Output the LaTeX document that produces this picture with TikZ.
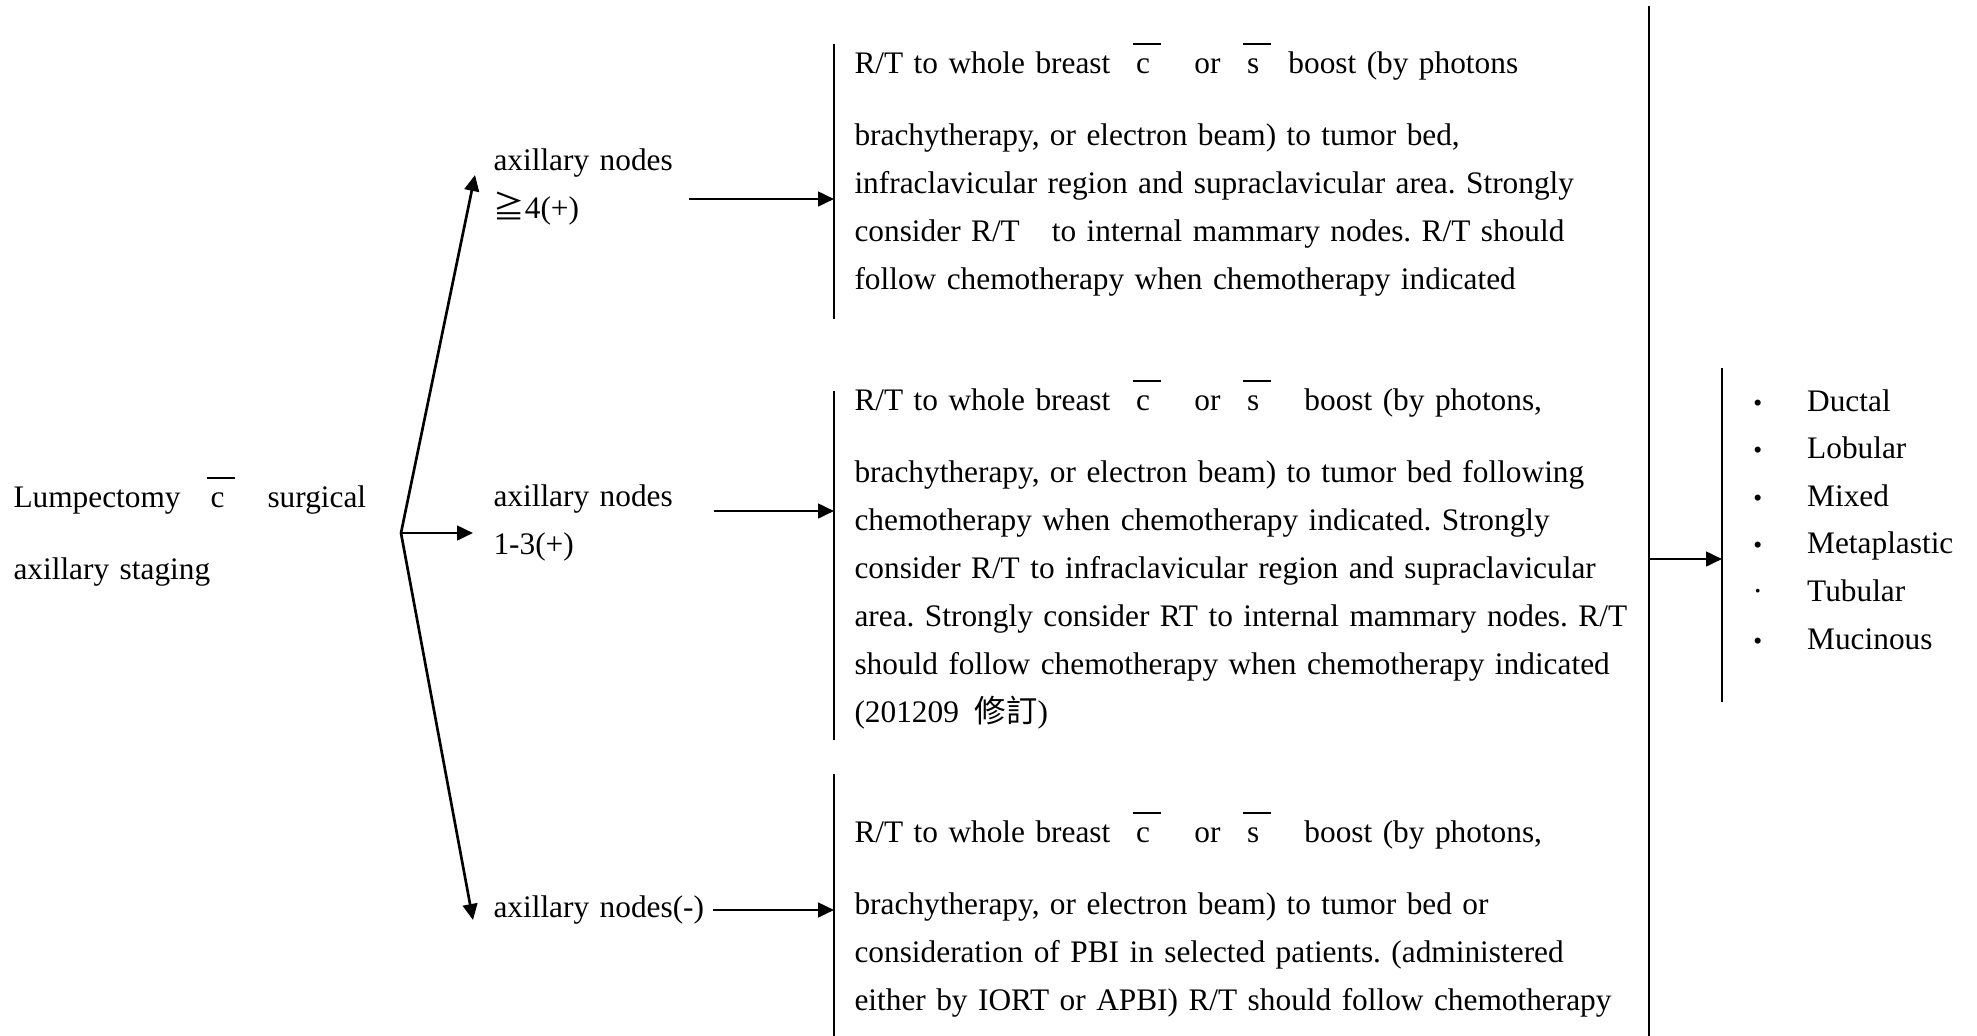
\documentclass[tikz,border=0pt]{standalone}
\usepackage{fontspec}
\setmainfont{Liberation Serif}
\newfontfamily\cjk{Noto Sans CJK TC}
\usetikzlibrary{arrows.meta}
\frenchspacing
% letter with a bar over it
\newcommand{\ovl}[1]{\makebox[10.5pt]{\rlap{\rule[10.5pt]{10.5pt}{0.7pt}}\hfil#1\hfil}}
\newcommand{\blt}{\makebox[4pt]{\fontsize{9.5}{9.5}\selectfont •}\hspace{16.5pt}}
\newcommand{\sdot}{\makebox[4pt]{·}\hspace{16.5pt}}
\tikzset{
	txt/.style={anchor=base west, inner sep=0pt, align=left, text width=160pt, font=\fontsize{11.75}{18}\selectfont},
	rtbox/.style={txt, text width=310pt},
	ln/.style={line width=0.8pt},
	arr/.style={line width=1pt, -{Triangle[length=6pt,width=5.5pt]}},
}

\begin{document}
\begin{tikzpicture}[x=0.375pt, y=-0.375pt]
			%%%%% START %%%%%
			\useasboundingbox (0, 0) rectangle (1977, 1036);
			
			\node[txt] (lump) at (13, 507) {Lumpectomy\hspace{8.6pt}\ovl{c}\hspace{13.5pt}surgical\\[9pt]axillary staging};
			\coordinate (fork) at (401, 533);
			
			\node[txt] (pos4) at (493, 170) {axillary nodes\\{\cjk ≧}4(+)};
			\node[txt] (pos13) at (493, 506) {axillary nodes\\1-3(+)};
			\node[txt] (neg) at (493, 917) {axillary nodes(-)};
			
			\coordinate (tip4) at (475, 175);
			\coordinate (tip13) at (473, 533);
			\coordinate (tipneg) at (473, 920);
			\draw[arr] (fork) -- (tip4);
			\draw[arr] (fork) -- (tip13);
			\draw[arr] (fork) -- (tipneg);
			
			% treatment blocks
			\coordinate (bar1top) at (834, 44);
			\coordinate (bar1bot) at (834, 319);
			\coordinate (bar2top) at (834, 391);
			\coordinate (bar2bot) at (834, 740);
			\coordinate (bar3top) at (834, 774);
			\coordinate (bar3bot) at (834, 1036);
			\draw[ln] (bar1top) -- (bar1bot);
			\draw[ln] (bar2top) -- (bar2bot);
			\draw[ln] (bar3top) -- (bar3bot);
			
			\node[rtbox] (rt4) at (854, 73) {R/T to whole breast\hspace{7pt}\ovl{c}\hspace{14pt}or\hspace{7pt}\ovl{s}\hspace{8pt}boost (by photons\\[9pt]
				brachytherapy, or electron beam) to tumor bed,\\
				infraclavicular region and supraclavicular area. Strongly\\
				consider R/T\hspace{12pt}to internal mammary nodes. R/T should\\
				follow chemotherapy when chemotherapy indicated};
			\node[rtbox] (rt13) at (854, 410) {R/T to whole breast\hspace{7pt}\ovl{c}\hspace{14pt}or\hspace{7pt}\ovl{s}\hspace{14pt}boost (by photons,\\[9pt]
				brachytherapy, or electron beam) to tumor bed following\\
				chemotherapy when chemotherapy indicated. Strongly\\
				consider R/T to infraclavicular region and supraclavicular\\
				area. Strongly consider RT to internal mammary nodes. R/T\\
				should follow chemotherapy when chemotherapy indicated\\
				(201209\hspace{6pt}{\cjk 修訂})};
			\node[rtbox] (rtneg) at (854, 842) {R/T to whole breast\hspace{7pt}\ovl{c}\hspace{14pt}or\hspace{7pt}\ovl{s}\hspace{14pt}boost (by photons,\\[9pt]
				brachytherapy, or electron beam) to tumor bed or\\
				consideration of PBI in selected patients. (administered\\
				either by IORT or APBI) R/T should follow chemotherapy};
			
			\coordinate (from4) at (689, 199);
			\coordinate (from13) at (714, 511);
			\coordinate (fromneg) at (713, 910);
			\draw[arr] (from4) -- (from4 -| bar1top);
			\draw[arr] (from13) -- (from13 -| bar2top);
			\draw[arr] (fromneg) -- (fromneg -| bar3top);
			
			% histology
			\coordinate (bigtop) at (1649, 6);
			\coordinate (bigbot) at (1649, 1036);
			\coordinate (bar4top) at (1722, 368);
			\coordinate (bar4bot) at (1722, 702);
			\draw[ln] (bigtop) -- (bigbot);
			\draw[ln] (bar4top) -- (bar4bot);
			\coordinate (fromhist) at (1649, 559);
			\draw[arr] (fromhist) -- (fromhist -| bar4top);
			
			\node[txt, font=\fontsize{11.75}{17.85}\selectfont] (hist) at (1752, 411) {\blt Ductal\\ \blt Lobular\\ \blt Mixed\\ \blt Metaplastic\\ \sdot Tubular\\ \blt Mucinous};
			
			%%%%% END %%%%%
\end{tikzpicture}
\end{document}
